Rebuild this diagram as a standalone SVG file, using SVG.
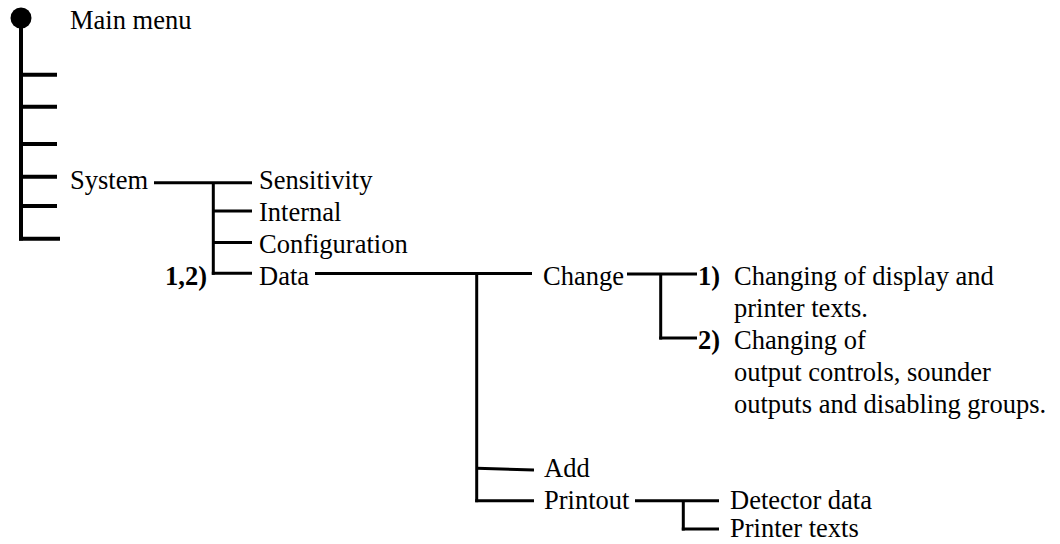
<svg xmlns="http://www.w3.org/2000/svg" width="1060" height="544" viewBox="0 0 1060 544">
  <style>
    text { font-family: 'Liberation Serif', 'DejaVu Serif', 'Times New Roman', Times, serif; font-size: 26.5px; fill: #000; }
    .num { font-weight: bold; }
    .spine { stroke: #000; stroke-width: 4; fill: none; stroke-linecap: butt; }
    .wire { stroke: #000; stroke-width: 3; fill: none; stroke-linecap: butt; stroke-linejoin: miter; }
  </style>

  <!-- connectors of the menu tree -->
  <g id="connectors">
    <!-- main menu spine with its items -->
    <circle cx="21" cy="18" r="10.5" fill="#000"/>
    <path class="spine" d="M21 18 V240.5"/>
    <path class="spine" d="M21 74.7 H57 M21 106.7 H57 M21 144 H57 M21 176.7 H57 M21 206 H57 M19 238.7 H60"/>

    <!-- System submenu -->
    <path class="wire" d="M154 182.7 H252"/>
    <path class="wire" d="M213.3 182.7 V274.8"/>
    <path class="wire" d="M213.3 211 H252 M213.3 242.5 H252 M211.8 273.3 H252"/>

    <!-- Data submenu -->
    <path class="wire" d="M315 273.5 H532"/>
    <path class="wire" d="M476.7 273.5 V502.2"/>
    <path class="wire" d="M476.7 468.3 L534 470"/>
    <path class="wire" d="M475.2 500.7 H534"/>

    <!-- Change notes -->
    <path class="wire" d="M627 274 H697"/>
    <path class="wire" d="M660.7 274 V339.5"/>
    <path class="wire" d="M659.2 338 H697"/>

    <!-- Printout submenu -->
    <path class="wire" d="M635 500.7 H719"/>
    <path class="wire" d="M683.3 500.7 V530.5"/>
    <path class="wire" d="M681.8 529 H719"/>
  </g>

  <g id="main-menu"><text x="70" y="28.5">Main menu</text></g>
  <g id="system"><text x="70" y="188.5">System</text></g>
  <g id="sensitivity"><text x="259" y="188.5">Sensitivity</text></g>
  <g id="internal"><text x="259" y="220.5">Internal</text></g>
  <g id="configuration"><text x="259" y="252.5">Configuration</text></g>
  <g id="data">
    <text class="num" x="207" y="284.5" text-anchor="end">1,2)</text>
    <text x="259" y="284.5">Data</text>
  </g>
  <g id="change"><text x="543" y="284.5">Change</text></g>
  <g id="note-1">
    <text class="num" x="698" y="284.5">1)</text>
    <text x="734" y="284.5">Changing of display and</text>
    <text x="734" y="316.5">printer texts.</text>
  </g>
  <g id="note-2">
    <text class="num" x="698" y="348.5">2)</text>
    <text x="734" y="348.5">Changing of</text>
    <text x="734" y="380.5">output controls, sounder</text>
    <text x="734" y="412.5">outputs and disabling groups.</text>
  </g>
  <g id="add"><text x="544" y="477">Add</text></g>
  <g id="printout"><text x="544" y="509">Printout</text></g>
  <g id="detector-data"><text x="730" y="509">Detector data</text></g>
  <g id="printer-texts"><text x="730" y="537">Printer texts</text></g>
</svg>
